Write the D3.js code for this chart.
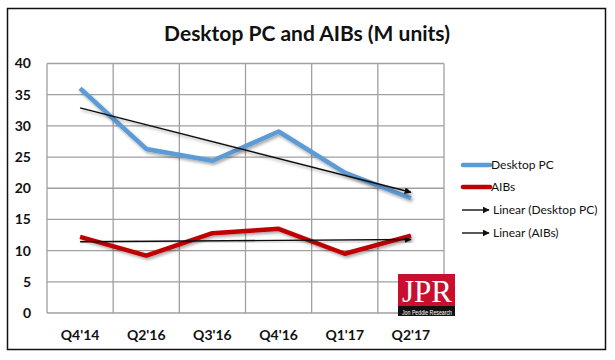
<!DOCTYPE html>
<html><head><meta charset="utf-8">
<script src="https://cdn.jsdelivr.net/npm/d3@7"></script>
<style>body{margin:0;background:#fff}svg{display:block}</style>
</head><body>
<svg id="c" width="615" height="360"></svg>
<script>
const categories = ["Q4'14","Q2'16","Q3'16","Q4'16","Q1'17","Q2'17"];
const desktopPC = [36, 26.3, 24.4, 29.1, 22.5, 18.4];
const aibs = [12.2, 9.2, 12.8, 13.5, 9.5, 12.4];
const yTicks = [0,5,10,15,20,25,30,35,40];
const legendLabels = ["Desktop PC","AIBs","Linear (Desktop PC)","Linear (AIBs)"];
const title = "Desktop PC and AIBs (M units)";

const svg = d3.select("#c");
const font = "Lato, 'Open Sans', sans-serif";
const blue = "#5B9BD5", red = "#C00000";

// frame
svg.append("rect").attr("x",7.5).attr("y",8.5).attr("width",598).attr("height",341)
  .attr("fill","#fff").attr("stroke","#111").attr("stroke-width",1.5);

const defs = svg.append("defs");
const f = defs.append("filter").attr("id","sh").attr("x","-10%").attr("y","-50%").attr("width","130%").attr("height","200%");
f.append("feDropShadow").attr("dx",1.5).attr("dy",2).attr("stdDeviation",1.5).attr("flood-color","#000").attr("flood-opacity",0.35);
defs.append("marker").attr("id","arr").attr("viewBox","0 0 10 10").attr("refX",9).attr("refY",5)
  .attr("markerWidth",7).attr("markerHeight",7).attr("markerUnits","userSpaceOnUse").attr("orient","auto")
  .append("path").attr("d","M0,0L10,5L0,10z").attr("fill","#111");

const L = 47, R = 444, T = 63.5, B = 313;
const x = d3.scaleBand().domain(categories).range([L,R]);
const y = d3.scaleLinear().domain([0,40]).range([B,T]);
const cx = d => x(d) + x.bandwidth()/2;

// gridlines
const g = svg.append("g");
g.selectAll(".hg").data(yTicks).join("line")
  .attr("x1",L).attr("x2",R).attr("y1",d=>y(d)).attr("y2",d=>y(d))
  .attr("stroke","#a0a0a0").attr("stroke-width",1.3);
const vx = categories.map(c=>x(c)).concat([R]);
g.selectAll(".vg").data(vx).join("line")
  .attr("x1",d=>d).attr("x2",d=>d).attr("y1",T).attr("y2",B)
  .attr("stroke","#a0a0a0").attr("stroke-width",1.3);

// axes labels
const yAxis = d3.axisLeft(y).tickValues(yTicks).tickSize(0).tickPadding(0);
const ya = svg.append("g").attr("transform",`translate(31,0)`).call(yAxis);
ya.select(".domain").remove();
ya.selectAll("text").attr("font-family",font).attr("font-weight","bold").attr("font-size",14).attr("fill","#111");

const xAxis = d3.axisBottom(x).tickSize(0).tickPadding(0);
const xa = svg.append("g").attr("transform",`translate(0,${B+17})`).call(xAxis);
xa.select(".domain").remove();
xa.selectAll("text").attr("font-family",font).attr("font-weight","bold").attr("font-size",14).attr("fill","#111");

// title
svg.append("text").attr("x",307).attr("y",41).attr("text-anchor","middle")
  .attr("font-family",font).attr("font-weight","bold").attr("font-size",21).attr("fill","#111").text(title);

// series
const line = d3.line().x((d,i)=>cx(categories[i])).y(d=>y(d));
svg.append("path").datum(desktopPC).attr("d",line).attr("fill","none").attr("stroke",blue)
  .attr("stroke-width",4.5).attr("stroke-linejoin","round").attr("filter","url(#sh)");
svg.append("path").datum(aibs).attr("d",line).attr("fill","none").attr("stroke",red)
  .attr("stroke-width",4.5).attr("stroke-linejoin","round").attr("filter","url(#sh)");

// linear trend lines (least squares over the plotted values)
function fit(vals){
  const n = vals.length, xs = vals.map((_,i)=>i+1);
  const mx = d3.mean(xs), my = d3.mean(vals);
  const b = d3.sum(xs.map((xv,i)=>(xv-mx)*(vals[i]-my))) / d3.sum(xs.map(xv=>(xv-mx)**2));
  const a = my - b*mx;
  return [a + b*1, a + b*n];
}
[desktopPC, aibs].forEach(vals=>{
  const [y0,y1] = fit(vals);
  svg.append("line").attr("x1",cx(categories[0])).attr("y1",y(y0))
    .attr("x2",cx(categories[categories.length-1])).attr("y2",y(y1))
    .attr("stroke","#111").attr("stroke-width",1.4).attr("marker-end","url(#arr)").attr("filter","url(#sh)");
});

// legend
const lg = svg.append("g");
const ly = [165, 187, 210, 233];
legendLabels.forEach((t,i)=>{
  const yy = ly[i];
  if (i<2){
    lg.append("line").attr("x1",463).attr("x2",490).attr("y1",yy).attr("y2",yy)
      .attr("stroke", i==0?blue:red).attr("stroke-width",4.5).attr("stroke-linecap","round");
  } else {
    lg.append("line").attr("x1",462).attr("x2",489).attr("y1",yy).attr("y2",yy)
      .attr("stroke","#111").attr("stroke-width",1.4).attr("marker-end","url(#arr)");
  }
  lg.append("text").attr("x", i<2 ? 491 : 493).attr("y",yy).attr("dy","0.35em")
    .attr("font-family",font).attr("font-size",12).attr("fill","#111").text(t);
});

// JPR logo
const lo = svg.append("g").attr("transform","translate(398,274)");
lo.append("rect").attr("width",57).attr("height",42).attr("fill","#c8102e");
lo.append("rect").attr("y",32).attr("width",57).attr("height",10).attr("fill","#111");
lo.append("text").attr("x",29).attr("y",28).attr("text-anchor","middle")
  .attr("font-family","'Liberation Serif', serif").attr("font-size",32).attr("fill","#fff")
  .attr("textLength",50).attr("lengthAdjust","spacingAndGlyphs").text("JPR");
lo.append("text").attr("x",29).attr("y",40.5).attr("text-anchor","middle")
  .attr("font-family","'Liberation Sans Narrow', 'Liberation Sans', sans-serif").attr("font-size",6.5).attr("fill","#fff")
  .attr("textLength",50).attr("lengthAdjust","spacingAndGlyphs").text("Jon Peddie Research");
</script>
</body></html>
